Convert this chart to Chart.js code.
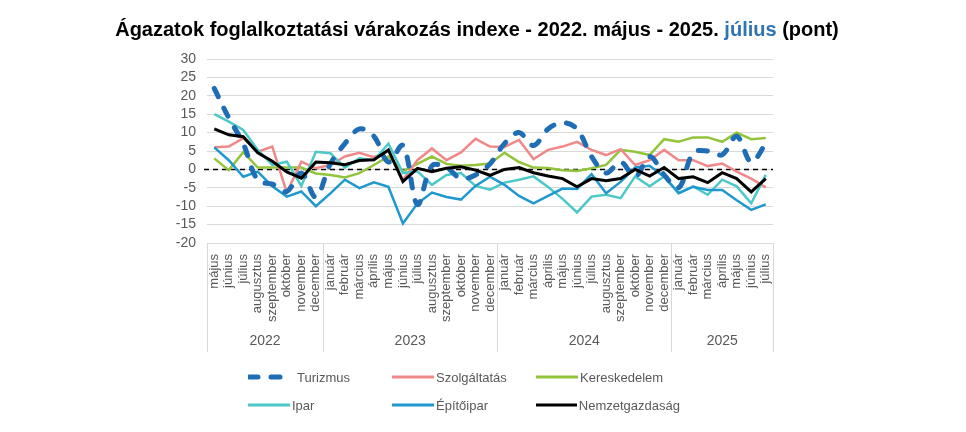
<!DOCTYPE html>
<html>
<head>
<meta charset="utf-8">
<script src="https://cdn.jsdelivr.net/npm/chart.js@4.4.1/dist/chart.umd.min.js"></script>
<style>
  html, body { margin: 0; padding: 0; background: #fff; }
  #wrap { position: relative; width: 966px; height: 432px; overflow: hidden; }
  #title {
    position: absolute; left: -6px; top: 18px; width: 966px; text-align: center;
    font: bold 20px "Liberation Sans", Arial, sans-serif; color: #000;
  }
  #title .hl { color: #2E74B5; }
  #legend {
    position: absolute; left: 248px; top: 363px;
    display: grid; grid-template-columns: 144px 144px 144px;
    font: 13px "Liberation Sans", Arial, sans-serif; color: #595959;
  }
  #legend .item { display: flex; align-items: center; height: 28px; }
  #legend svg { margin-right: 2px; }
</style>
</head>
<body>
<div id="wrap">
  <canvas id="chart" width="966" height="432"></canvas>
  <div id="title">Ágazatok foglalkoztatási várakozás indexe - 2022. május - 2025. <span class="hl">július</span> (pont)</div>
  <div id="legend"></div>
</div>
<script>
// month categories, 2022 May .. 2025 July
var months = [
  'május', 'június', 'július', 'augusztus', 'szeptember', 'október', 'november', 'december',
  'január', 'február', 'március', 'április', 'május', 'június', 'július', 'augusztus', 'szeptember', 'október', 'november', 'december',
  'január', 'február', 'március', 'április', 'május', 'június', 'július', 'augusztus', 'szeptember', 'október', 'november', 'december',
  'január', 'február', 'március', 'április', 'május', 'június', 'július'
];
var yearLabels = ['2022', '2023', '2024', '2025'];
var monthsPerYear = [8, 12, 12, 7];
var yTicks = [-20, -15, -10, -5, 0, 5, 10, 15, 20, 25, 30];

var turizmus = [22, 14, 7, -3, -4, -6, -1, -7.5, 1.5, 7, 11, 9, 2, 6.5, -9.5, 1, 0.5, -2.5, -1.5, 1.5,
  7, 10, 6.5, 11, 12.7, 11, 3.5, -1, 2, -2, 3.5, -1.5, -5, 4.5, 5, 4, 9, 2, 7];
var szolgaltatas = [6, 6.2, 8.5, 4.8, 6.2, -6.3, 2.1, 0.3, 1.2, 3.5, 4.5, 3.3, 5, -2.9, 2.5, 5.7, 2.5, 4.6, 8.3, 6.2,
  6.1, 8, 2.8, 5.3, 6.2, 7.5, 5.3, 3.9, 5.5, 1.2, 2.5, 5.3, 2.5, 2.5, 0.9, 1.6, -0.6, -2.5, -4.9];
var kereskedelem = [3, -0.2, 4.7, 0.5, 0.5, 0.5, 0.5, -1.1, -1.5, -2.2, -1, 1.2, 3.5, -0.5, 1.5, 3.5, 1.5, 1, 1.2, 1.6,
  4.5, 2, 0.5, 0.4, -0.2, -0.4, 0.3, 1.2, 5.3, 4.8, 3.9, 8.2, 7.5, 8.7, 8.7, 7.5, 10, 8.2, 8.5];
var ipar = [15, 13, 10.7, 5.3, 1.2, 2.1, -4.5, 4.8, 4.4, 0.5, 3, 2.5, 7, -1, -0.5, -4.2, -1.5, -1, -4.5, -5.5,
  -3.6, -2.8, -1.9, -4.8, -8, -11.7, -7.4, -6.9, -7.8, -1.9, -4.6, -1.9, -6.4, -4.6, -6.9, -2.8, -4.6, -9.2, -1.5];
var epitoipar = [6, 2.5, -2, -0.6, -4.6, -7.4, -6, -10, -6.5, -2.8, -5.1, -3.5, -4.7, -14.7, -9.3, -6.3, -7.5, -8.2, -4.5, -2,
  -4.2, -7.2, -9.2, -7.2, -5.2, -5.3, -1.3, -6.5, -3.4, 0.5, 1, -2, -6.5, -4.7, -5.6, -5.6, -8.4, -11, -9.5];
var nemzetgazdasag = [11, 9.4, 8.9, 4.5, 2.2, -0.7, -2.4, 2, 1.8, 1.3, 2.4, 2.6, 5.3, -3.3, 0.3, -0.6, 0.3, 0.7, -0.2, -1.6,
  0, 0.5, -0.9, -1.8, -2.5, -4.7, -2.5, -3.1, -2.5, 0, -1.8, 0.5, -2.5, -2, -3.6, -0.9, -2.5, -6.1, -2.5];

var FONT = '"Liberation Sans", Arial, sans-serif';
var GREY = '#595959';
var GRID = '#D9D9D9';

function line(label, data, color, width, order) {
  return {
    label: label, data: data, borderColor: color, backgroundColor: color,
    borderWidth: width, pointRadius: 0, tension: 0, fill: false, order: order
  };
}

var tur = line('Turizmus', turizmus, '#1F6DB4', 5, 1);
tur.borderDash = [9, 13];
tur.borderCapStyle = 'round';
tur.borderJoinStyle = 'round';
tur.tension = 0.35;

var datasets = [
  tur,
  line('Szolgáltatás', szolgaltatas, '#F0888A', 2.5, 4),
  line('Kereskedelem', kereskedelem, '#92C43C', 2.5, 5),
  line('Ipar', ipar, '#4CC8C8', 2.5, 3),
  line('Építőipar', epitoipar, '#1F98CE', 2.5, 2),
  line('Nemzetgazdaság', nemzetgazdasag, '#000000', 3, 0)
];

// dashed zero line across the plot
var zeroLine = {
  id: 'zeroLine',
  beforeDatasetsDraw: function(chart) {
    var ctx = chart.ctx, a = chart.chartArea;
    var y = Math.round(chart.scales.y.getPixelForValue(0)) + 0.5;
    ctx.save();
    ctx.strokeStyle = '#000';
    ctx.lineWidth = 1.5;
    ctx.setLineDash([5, 4]);
    ctx.beginPath();
    ctx.moveTo(a.left - 3, y);
    ctx.lineTo(a.right, y);
    ctx.stroke();
    ctx.restore();
  }
};

// second level of the category axis: years with divider lines
var yearAxis = {
  id: 'yearAxis',
  afterDraw: function(chart) {
    var ctx = chart.ctx, x = chart.scales.x, a = chart.chartArea;
    var top = a.bottom, bottom = a.bottom + 109;
    var bounds = [a.left];
    var idx = 0;
    for (var g = 0; g < monthsPerYear.length; g++) {
      idx += monthsPerYear[g];
      if (idx < months.length) {
        bounds.push((x.getPixelForValue(idx - 1) + x.getPixelForValue(idx)) / 2);
      } else {
        bounds.push(a.right);
      }
    }
    ctx.save();
    ctx.strokeStyle = GRID;
    ctx.lineWidth = 1;
    ctx.beginPath();
    bounds.forEach(function(b) {
      var px = Math.round(b) + 0.5;
      ctx.moveTo(px, top);
      ctx.lineTo(px, bottom);
    });
    ctx.stroke();
    ctx.fillStyle = GREY;
    ctx.font = '14px ' + FONT;
    ctx.textAlign = 'center';
    ctx.textBaseline = 'middle';
    for (var i = 0; i < yearLabels.length; i++) {
      ctx.fillText(yearLabels[i], (bounds[i] + bounds[i + 1]) / 2, top + 98);
    }
    ctx.restore();
  }
};

var chart = new Chart(document.getElementById('chart').getContext('2d'), {
  type: 'line',
  data: { labels: months, datasets: datasets },
  options: {
    responsive: false,
    animation: false,
    layout: { padding: { left: 150, right: 193, top: 59, bottom: 80 } },
    plugins: { legend: { display: false }, title: { display: false }, tooltip: { enabled: false } },
    scales: {
      x: {
        offset: true,
        grid: { display: false },
        border: { display: false },
        ticks: {
          autoSkip: false, minRotation: 90, maxRotation: 90, padding: 3,
          color: GREY, font: { family: FONT, size: 13 }
        },
        afterFit: function(s) { s.height = 109; }
      },
      y: {
        min: -20, max: 30,
        afterBuildTicks: function(s) { s.ticks = yTicks.map(function(v) { return { value: v }; }); },
        grid: { color: GRID, lineWidth: 1, drawTicks: false },
        border: { display: false },
        ticks: { autoSkip: false, padding: 11, color: GREY, font: { family: FONT, size: 14 } },
        afterFit: function(s) { s.width = 57; }
      }
    }
  },
  plugins: [zeroLine, yearAxis]
});

// legend in three columns, built from the datasets
var legend = document.getElementById('legend');
chart.data.datasets.forEach(function(ds) {
  var item = document.createElement('div');
  item.className = 'item';
  var w = ds.borderDash ? 47 : 42;
  var dash = ds.borderDash ? ' stroke-dasharray="' + ds.borderDash.join(' ') + '" stroke-linecap="round"' : '';
  var x1 = ds.borderDash ? 1 : 0;
  var x2 = ds.borderDash ? w - 2 : w;
  item.innerHTML = '<svg width="' + w + '" height="8"><line x1="' + x1 + '" y1="4" x2="' + x2 + '" y2="4" stroke="' +
    ds.borderColor + '" stroke-width="' + (ds.borderDash ? 5 : 3) + '"' + dash + '/></svg><span>' + ds.label + '</span>';
  legend.appendChild(item);
});
</script>
</body>
</html>
